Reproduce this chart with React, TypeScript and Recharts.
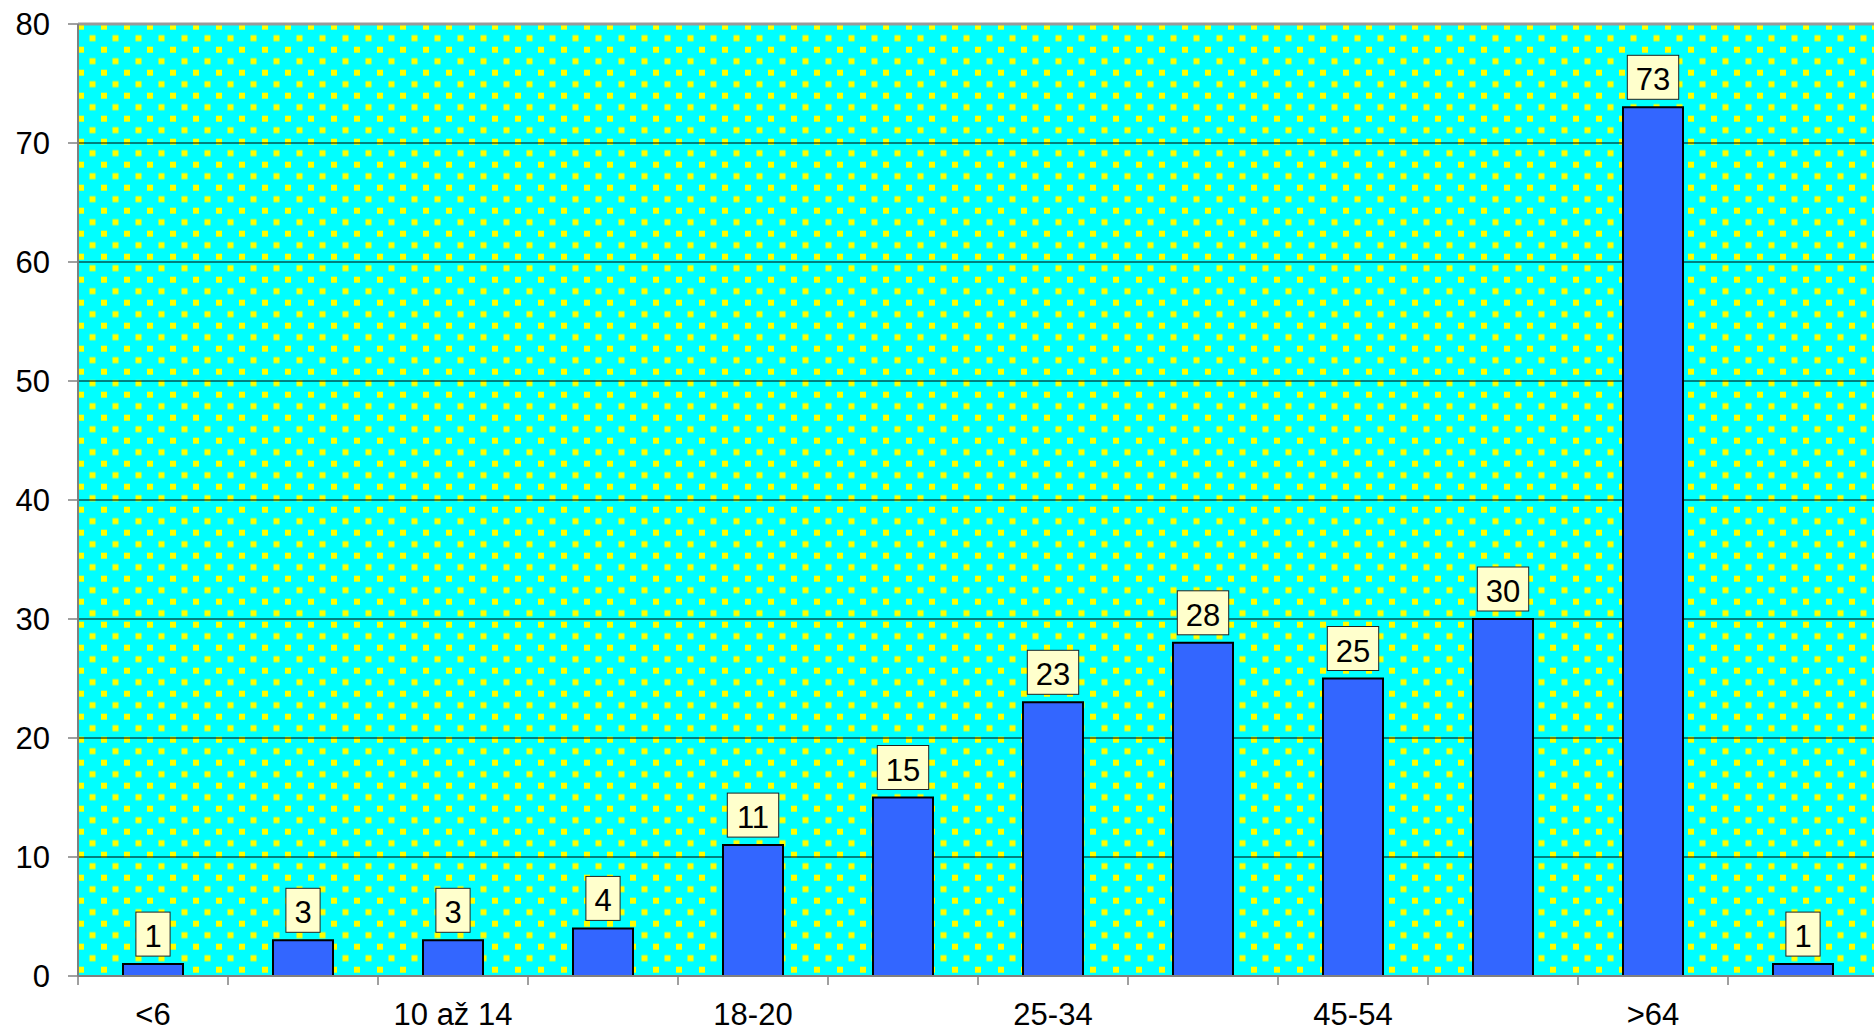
import { BarChart, Bar, XAxis, YAxis, CartesianGrid, LabelList, ReferenceLine } from "recharts";

const categories = ["<6", "6-9", "10 až 14", "15-17", "18-20", "21-24", "25-34", "35-44", "45-54", "55-64", ">64", "neuvedeno"];
const counts = [1, 3, 3, 4, 11, 15, 23, 28, 25, 30, 73, 1];
const yTicks = [0, 10, 20, 30, 40, 50, 60, 70, 80];

const data = categories.map((name, i) => ({ name, count: counts[i] }));

const FONT = "'Liberation Sans', Arial, sans-serif";
const AXIS_GRAY = "#808080";

// x axis: boundary tick marks between categories, label on every other category
const renderXTick = (props: any) => {
  const { x, y, payload, index } = props;
  const half = payload && payload.offset ? payload.offset : 75;
  const axisY = y - 27;
  return (
    <g>
      <line x1={x - half} x2={x - half} y1={axisY} y2={axisY + 9} stroke={AXIS_GRAY} strokeWidth={1.5} />
      {index % 2 === 0 && (
        <text x={x} y={y} dy="0.71em" textAnchor="middle" fontSize={31} fontFamily={FONT} fill="#000">
          {payload.value}
        </text>
      )}
    </g>
  );
};

// value in a pale yellow box above the bar
const renderValueBox = (props: any) => {
  const { x, y, width, value } = props;
  const text = String(value);
  const boxW = text.length * 17.2 + 17;
  const boxH = 44;
  const cx = x + width / 2;
  const bottom = y - 8;
  return (
    <g>
      <rect x={cx - boxW / 2} y={bottom - boxH} width={boxW} height={boxH} fill="#FFFFCC" stroke="#222" strokeWidth={1} />
      <text x={cx} y={bottom - 9} textAnchor="middle" fontSize={31} fontFamily={FONT} fill="#000">
        {text}
      </text>
    </g>
  );
};

export default function App() {
  return (
    <div style={{ position: "absolute", left: 0, top: 0, width: 1874, height: 1031, overflow: "hidden", background: "#fff" }}>
      <BarChart
        width={1880}
        height={1031}
        data={data}
        margin={{ top: 24, right: 2, left: 0, bottom: 0 }}
        barCategoryGap="30%"
      >
        <defs>
          <pattern id="dots" patternUnits="userSpaceOnUse" x={78} y={23.7} width={23} height={23}>
            <rect x={0} y={0} width={23} height={23} fill="#00FFFF" />
            <rect x={0} y={0} width={6} height={6} fill="#FFFF00" />
            <rect x={11.5} y={11.5} width={6} height={6} fill="#FFFF00" />
          </pattern>
        </defs>
        <CartesianGrid vertical={false} stroke="#000" strokeWidth={1} fill="url(#dots)" fillOpacity={1} />
        <XAxis
          dataKey="name"
          height={55}
          interval={0}
          tickLine={false}
          tickSize={9}
          tickMargin={18}
          tick={renderXTick}
          axisLine={{ stroke: AXIS_GRAY, strokeWidth: 2 }}
        />
        <YAxis
          width={78}
          domain={[0, 80]}
          ticks={yTicks}
          interval={0}
          tickSize={10}
          tickMargin={18}
          tickLine={{ stroke: AXIS_GRAY, strokeWidth: 1.5 }}
          axisLine={{ stroke: AXIS_GRAY, strokeWidth: 2 }}
          tick={{ fontSize: 31, fontFamily: FONT, fill: "#000" }}
        />
        <ReferenceLine y={80} stroke="#999" strokeWidth={3} />
        <Bar dataKey="count" fill="#3366FF" stroke="#000" strokeWidth={2} isAnimationActive={false}>
          <LabelList dataKey="count" content={renderValueBox} />
        </Bar>
      </BarChart>
    </div>
  );
}
